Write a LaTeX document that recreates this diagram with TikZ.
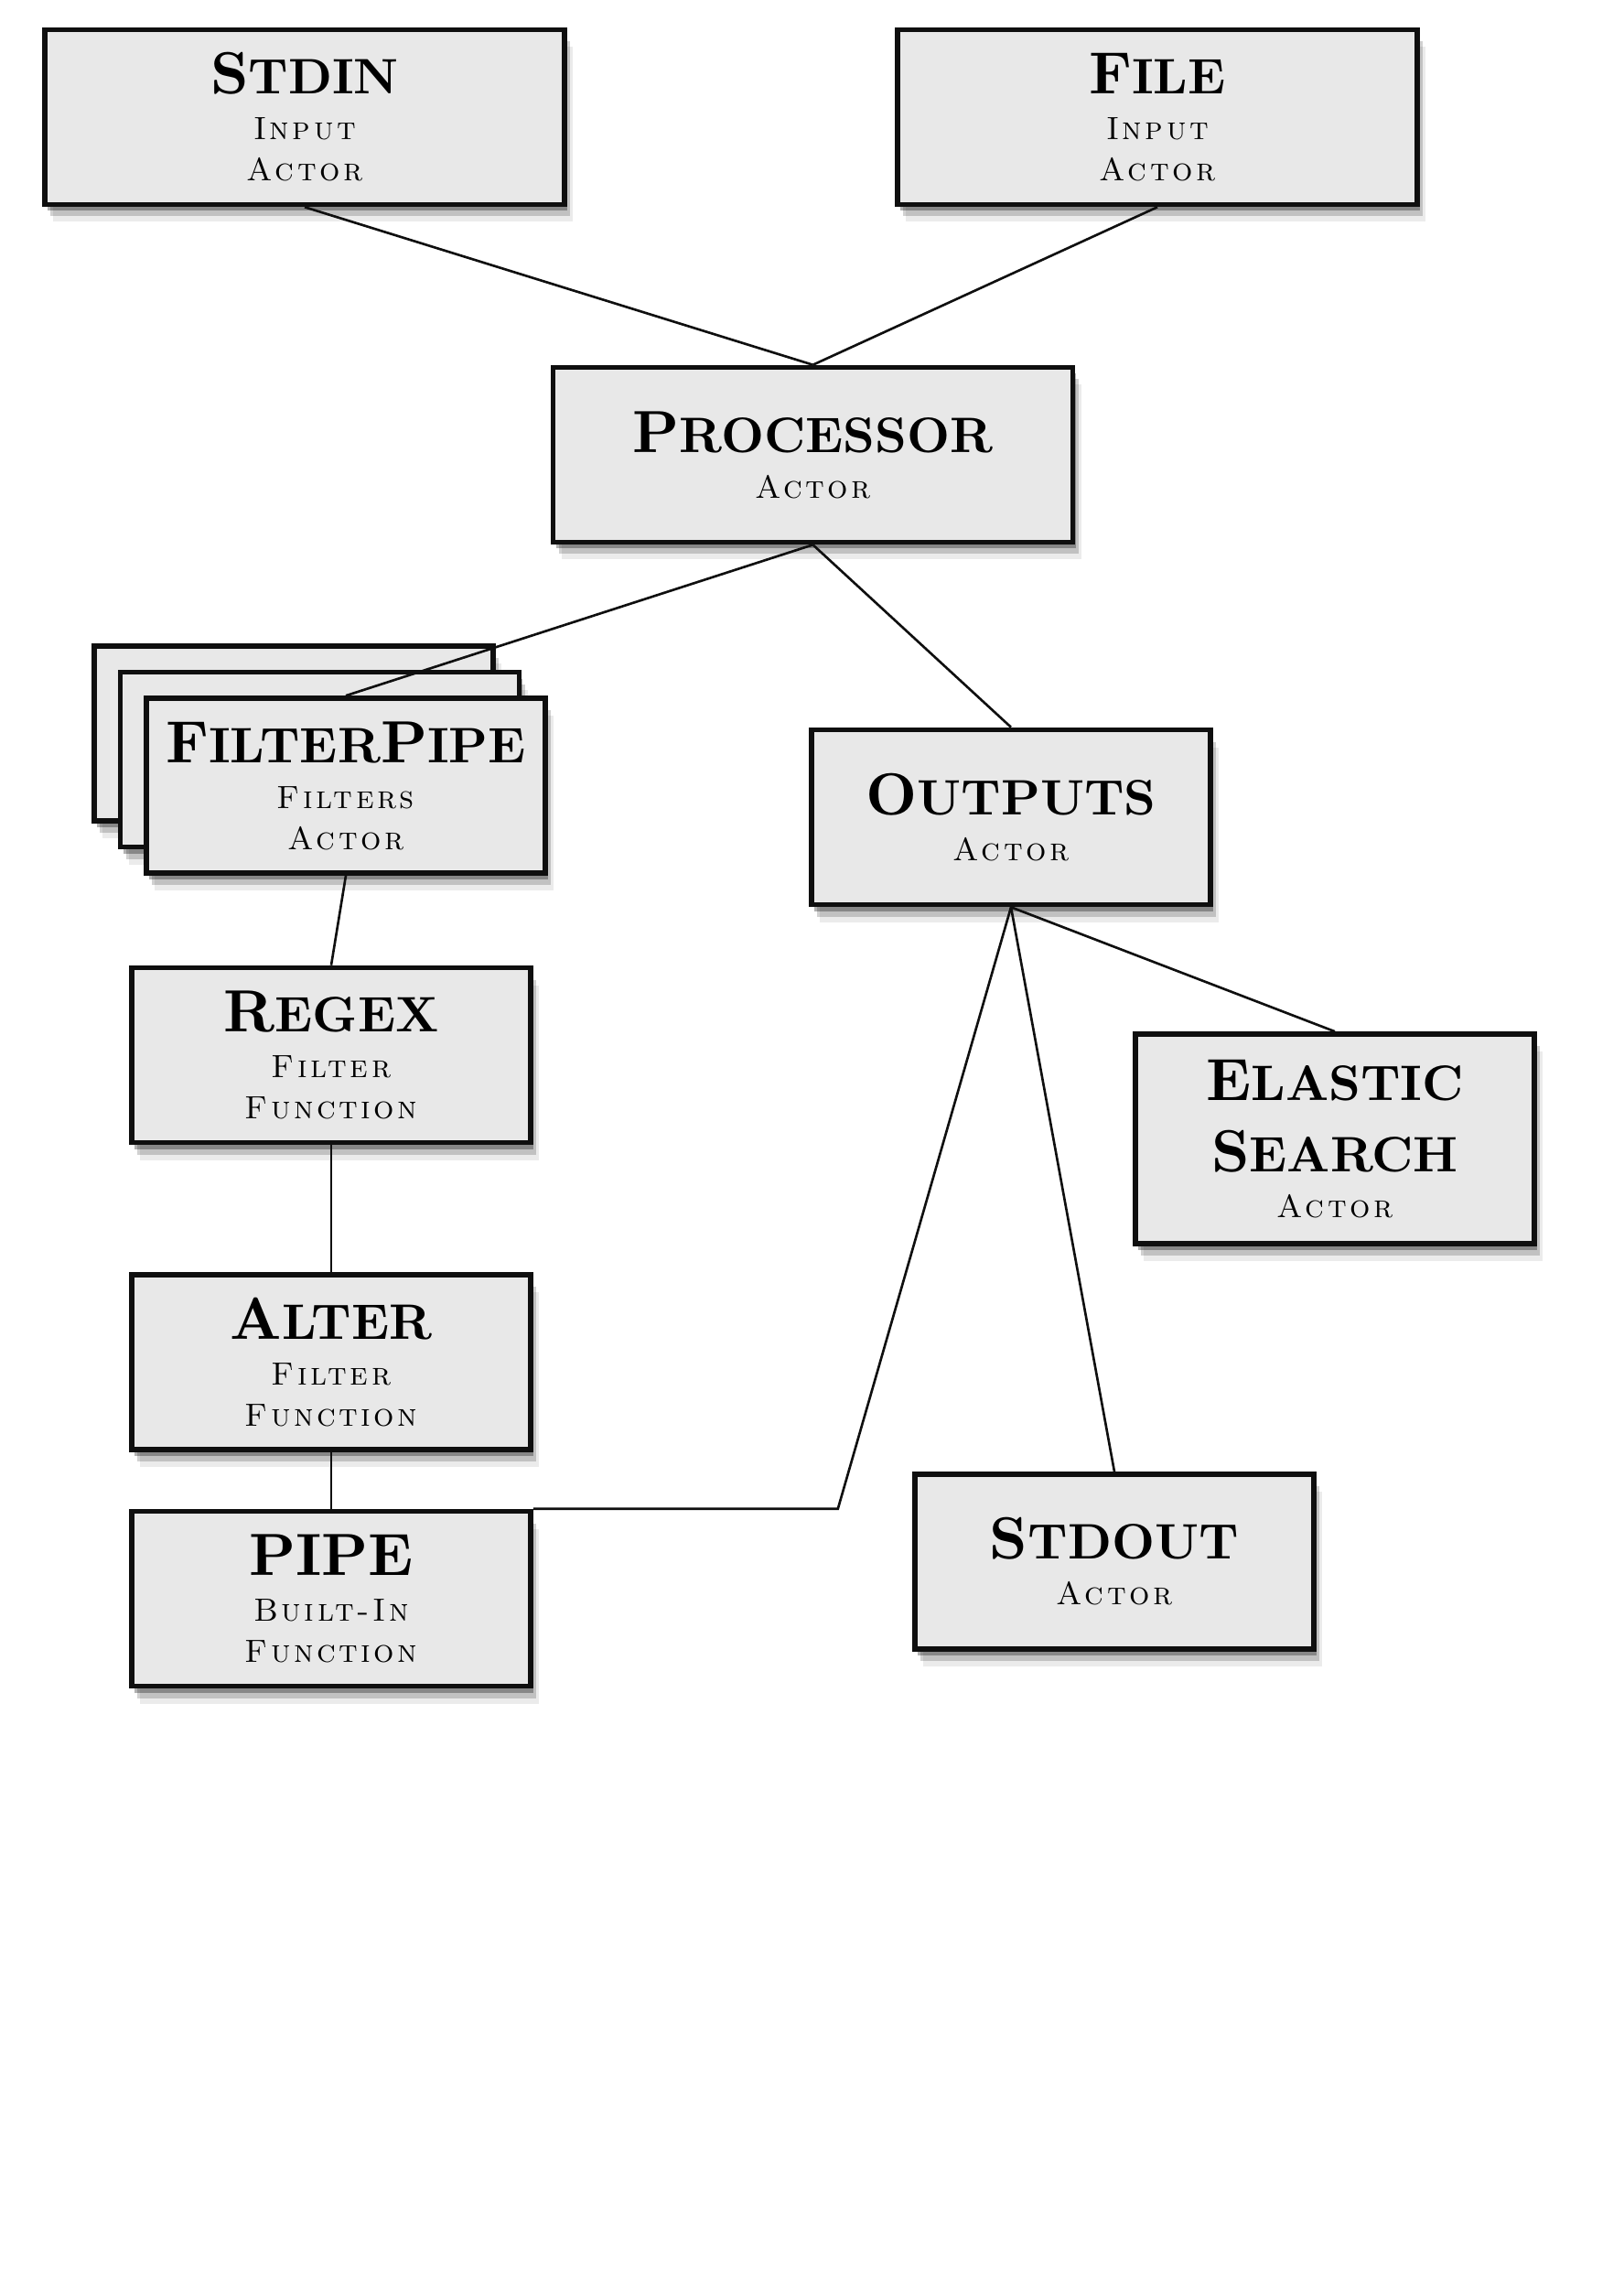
\documentclass[tikz,border=0pt]{standalone}
\usepackage{fontspec}
\usepackage{tikz}
\usetikzlibrary{shadows}
\newfontfamily\titlefont{lmroman10-bold.otf}
\newfontfamily\subfont{lmromancaps10-regular.otf}[LetterSpace=10]
\definecolor{boxfill}{RGB}{232,232,232}
\definecolor{ink}{RGB}{15,15,15}
% title in faked bold small caps
\newcommand\ttl[2]{{\titlefont\fontsize{18.5}{22}\selectfont #1\fontsize{15.5}{22}\selectfont #2}}
\tikzset{
  box/.style={draw=ink,line width=1.6pt,fill=boxfill,minimum width=4.36cm,
    minimum height=1.91cm,align=center,inner sep=2pt,
    font=\subfont\fontsize{10}{12.8}\selectfont,
    drop shadow={shadow xshift=0.3mm,shadow yshift=-0.7mm,opacity=0.3,fill=black},
    drop shadow={shadow xshift=0.6mm,shadow yshift=-1.3mm,opacity=0.18,fill=black},
    drop shadow={shadow xshift=0.9mm,shadow yshift=-1.9mm,opacity=0.08,fill=black}},
  wide/.style={minimum width=5.68cm},
  link/.style={draw=ink,line width=0.75pt},
}
\begin{document}
\begin{tikzpicture}
    \useasboundingbox (0,0) rectangle (17.74,-24.86);
    \node[box,wide] (stdin) at (3.33,-1.28) {\ttl{S}{TDIN}\\[1.4pt]Input\\Actor};
    \node[box,wide] (file) at (12.65,-1.28) {\ttl{F}{ILE}\\[1.4pt]Input\\Actor};
    \node[box,wide] (proc) at (8.885,-4.97) {\ttl{P}{ROCESSOR}\\[1.4pt]Actor};
    % stacked filter pipes
    \node[box] (fp3) at (3.21,-8.015) {};
    \node[box] (fp2) at (3.495,-8.30) {};
    \node[box] (fp) at (3.78,-8.585) {\ttl{F}{ILTER}\ttl{P}{IPE}\\[1.4pt]Filters\\Actor};
    \node[box] (outs) at (11.05,-8.93) {\ttl{O}{UTPUTS}\\[1.4pt]Actor};
    \node[box] (regex) at (3.62,-11.53) {\ttl{R}{EGEX}\\[1.4pt]Filter\\Function};
    \node[box] (alter) at (3.62,-14.885) {\ttl{A}{LTER}\\[1.4pt]Filter\\Function};
    \node[box] (pipe) at (3.62,-17.47) {{\titlefont\fontsize{18.5}{22}\selectfont PIPE}\\[1.4pt]Built-In\\Function};
    \node[box,minimum height=2.29cm] (es) at (14.59,-12.445) {\ttl{E}{LASTIC}\\[8pt]\ttl{S}{EARCH}\\[1.4pt]Actor};
    \node[box] (stdout) at (12.18,-17.065) {\ttl{S}{TDOUT}\\[1.4pt]Actor};
    \path (pipe.north east) ++(3.33,0) coordinate (bend);
    \draw[link] (stdin.south) -- (proc.north); \draw[link] (file.south) -- (proc.north);
    \draw[link] (proc.south) -- (fp.north); \draw[link] (proc.south) -- (outs.north);
    \draw[link] (fp.south) -- (regex.north); \draw[link] (regex) -- (alter); \draw[link] (alter) -- (pipe);
    \draw[link] (outs.south) -- (es.north); \draw[link] (outs.south) -- (stdout.north);
    \draw[link] (outs.south) -- (bend) -- (pipe.north east);
\end{tikzpicture}
\end{document}
